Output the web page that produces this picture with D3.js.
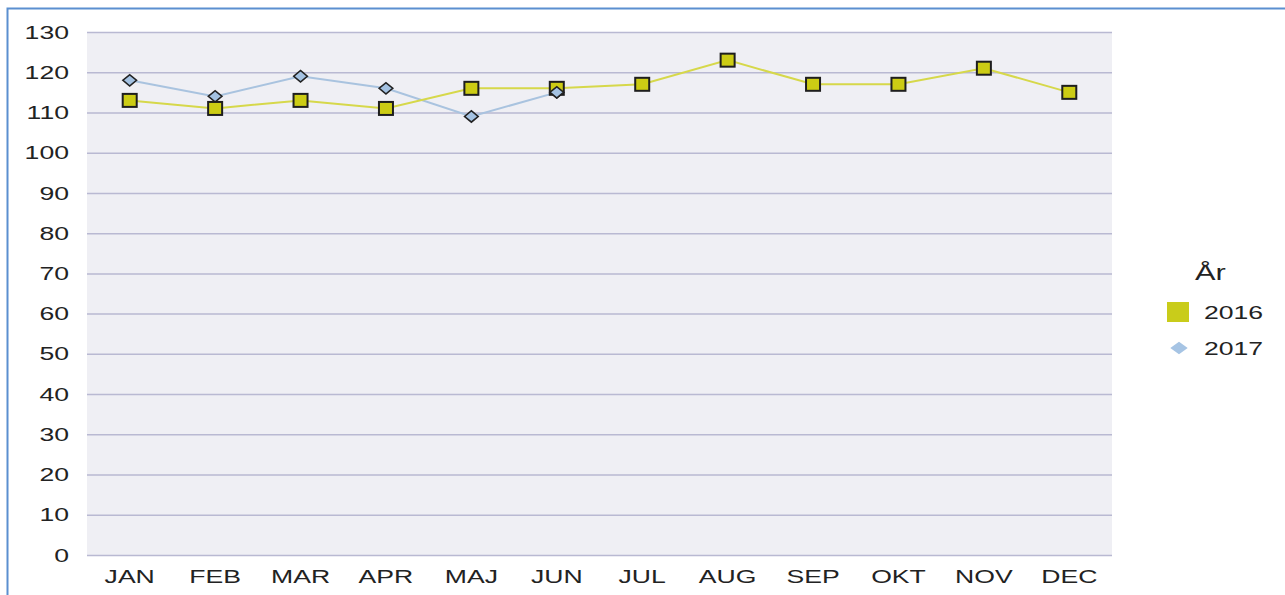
<!DOCTYPE html>
<html>
<head>
<meta charset="utf-8">
<script src="https://cdn.jsdelivr.net/npm/d3@7"></script>
<style>
  body { margin: 0; background: #fff; }
  svg { display: block; font-family: "Liberation Sans", Arial, sans-serif; }
</style>
</head>
<body>
<script>
// data
const months = ["JAN", "FEB", "MAR", "APR", "MAJ", "JUN", "JUL", "AUG", "SEP", "OKT", "NOV", "DEC"]
const values2016 = [113, 111, 113, 111, 116, 116, 117, 123, 117, 117, 121, 115]
const values2017 = [118, 114, 119, 116, 109, 115]
const yTicks = [0, 10, 20, 30, 40, 50, 60, 70, 80, 90, 100, 110, 120, 130]
const years = ["2016", "2017"]

const W = 1285, H = 595
let margin = { top: 32, left: 87, right: 173, bottom: 40 }
let width = W - margin.left - margin.right,
    height = H - margin.top - margin.bottom

// the source text is drawn wider than normal Arial
const sx = 1.4

let svg = d3.select("body").append("svg")
    .attr("width", W)
    .attr("height", H)

// blue frame
svg.append("rect")
    .attr("x", 7.5).attr("y", 8.5)
    .attr("width", W + 10).attr("height", H + 10)
    .attr("fill", "none")
    .attr("stroke", "#5b8fd0")
    .attr("stroke-width", 2)

let g = svg.append("g")
    .attr("transform", "translate(" + margin.left + "," + margin.top + ")")

let x = d3.scaleBand().domain(months).range([0, width])
let y = d3.scaleLinear().domain([0, 130]).range([height, 0])

// plot background
g.append("rect")
    .attr("width", width)
    .attr("height", height)
    .attr("fill", "#efeff4")

// grid
g.append("g")
    .call(d3.axisLeft(y).tickValues(yTicks).tickSize(-width).tickFormat(""))
    .call(a => a.select(".domain").remove())
    .selectAll("line")
    .attr("stroke", "#b9b9d2")
    .attr("stroke-width", 1.5)

// y labels
g.append("g")
    .call(d3.axisLeft(y).tickValues(yTicks).tickSize(0))
    .call(a => a.select(".domain").remove())
    .selectAll("text")
    .attr("x", -18 / sx)
    .attr("transform", "scale(" + sx + ",1)")
    .attr("font-size", 19)
    .attr("font-family", "Liberation Sans, Arial, sans-serif")
    .attr("fill", "#222")

// x labels
g.append("g")
    .attr("transform", "translate(0," + height + ")")
    .call(d3.axisBottom(x).tickSize(0).tickPadding(15))
    .call(a => a.select(".domain").remove())
    .selectAll("text")
    .attr("transform", "scale(" + sx + ",1)")
    .attr("font-size", 19)
    .attr("font-family", "Liberation Sans, Arial, sans-serif")
    .attr("fill", "#222")

let cx = (d, i) => x(months[i]) + x.bandwidth() / 2

let line = d3.line()
    .x((d, i) => cx(d, i))
    .y(d => y(d))

// 2017 line
g.append("path")
    .datum(values2017)
    .attr("d", line)
    .attr("fill", "none")
    .attr("stroke", "#a9c3df")
    .attr("stroke-width", 2)

// 2016 line
g.append("path")
    .datum(values2016)
    .attr("d", line)
    .attr("fill", "none")
    .attr("stroke", "#d6d84a")
    .attr("stroke-width", 2)

// 2017 diamonds (drawn first, squares over)
let diamond = d3.symbol().type(d3.symbolDiamond2).size(90)
g.selectAll(".d17")
    .data(values2017)
    .join("path")
    .attr("class", "d17")
    .attr("d", diamond)
    .attr("transform", (d, i) => "translate(" + cx(d, i) + "," + y(d) + ") scale(1.15,0.95)")
    .attr("fill", "#a4c2e2")
    .attr("stroke", "#222")
    .attr("stroke-width", 1.5)

// 2016 squares
g.selectAll(".s16")
    .data(values2016)
    .join("rect")
    .attr("class", "s16")
    .attr("x", (d, i) => cx(d, i) - 7)
    .attr("y", d => y(d) - 6.5)
    .attr("width", 14)
    .attr("height", 13)
    .attr("fill", "#cccc14")
    .attr("stroke", "#1e1e1e")
    .attr("stroke-width", 2)

// JUN diamond sits on top of the square in the reference
g.append("path")
    .attr("d", diamond)
    .attr("transform", "translate(" + cx(0, 5) + "," + y(values2017[5]) + ") scale(1.15,0.95)")
    .attr("fill", "#a4c2e2")
    .attr("stroke", "#222")
    .attr("stroke-width", 1.5)

// legend
let leg = svg.append("g").attr("transform", "translate(1167,0)")
leg.append("text")
    .attr("x", 28 / sx).attr("y", 280)
    .attr("transform", "scale(" + sx + ",1)")
    .attr("font-size", 22)
    .attr("fill", "#222")
    .text("År")
leg.append("rect")
    .attr("x", 0).attr("y", 302)
    .attr("width", 22).attr("height", 20)
    .attr("fill", "#c9cc1a")
leg.append("path")
    .attr("d", d3.symbol().type(d3.symbolDiamond2).size(160)())
    .attr("transform", "translate(12,348) scale(1.1,0.8)")
    .attr("fill", "#a6c4e4")
leg.selectAll(".lt")
    .data(years)
    .join("text")
    .attr("class", "lt")
    .attr("x", 37 / sx)
    .attr("y", (d, i) => 319 + i * 36)
    .attr("transform", "scale(" + sx + ",1)")
    .attr("font-size", 19)
    .attr("fill", "#222")
    .text(d => d)
</script>
</body>
</html>
